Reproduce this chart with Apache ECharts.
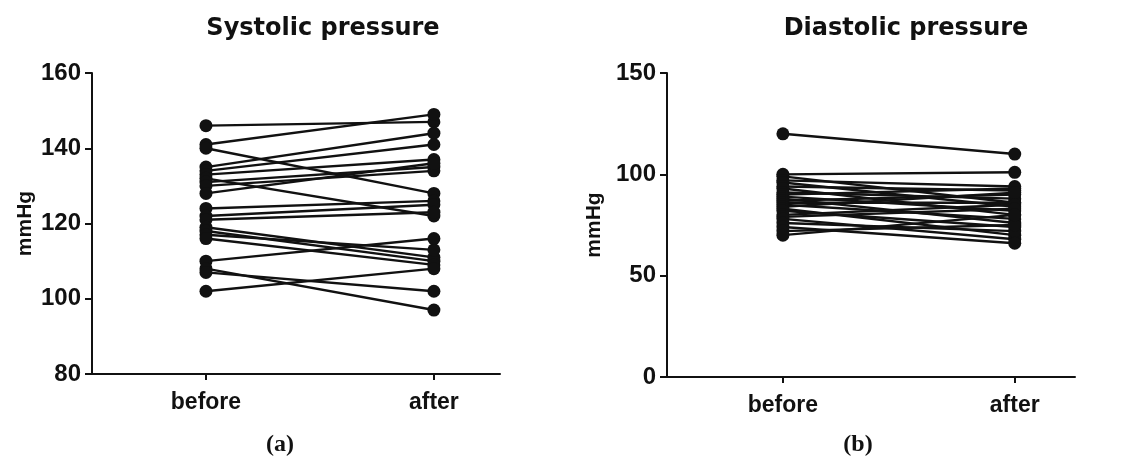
<!DOCTYPE html>
<html><head><meta charset="utf-8">
<script src="https://cdn.jsdelivr.net/npm/echarts@6/dist/echarts.min.js"></script>
<style>html,body{margin:0;padding:0;background:#fff}#c{width:1130px;height:459px}</style>
</head><body><div id="c"></div>
<script>
const categories = ['before', 'after'];
const sysTicks = [80, 100, 120, 140, 160];
const diaTicks = [0, 50, 100, 150];
const sysBefore = [146, 141, 140, 135, 134, 133, 132, 131, 130, 128, 124, 122, 121, 119, 118, 117, 116, 110, 108, 107, 102];
const sysAfter  = [147, 149, 128, 144, 141, 137, 122, 135, 134, 136, 126, 125, 123, 111, 110, 113, 109, 116, 97, 102, 108];
const diaBefore = [120, 100, 99, 97, 96, 94, 93, 91, 90, 89, 88, 87, 86, 85, 84, 83, 82, 80, 79, 78, 76, 74, 72, 70];
const diaAfter  = [110, 101, 86, 94, 84, 92, 80, 88, 93, 82, 76, 90, 86, 78, 91, 70, 74, 85, 83, 68, 72, 66, 75, 80];

const sans = 'Liberation Sans, Arial, sans-serif';
const wide = 'DejaVu Sans, Liberation Sans, sans-serif';
const serif = 'Liberation Serif, Times New Roman, serif';
function makeSeries(b, a, idx) {
  return b.map((v, i) => ({
    type: 'line', xAxisIndex: idx, yAxisIndex: idx,
    data: [[0, v], [1, a[i]]],
    symbol: 'circle', symbolSize: 13,
    lineStyle: {color: '#111', width: 2.4},
    itemStyle: {color: '#111'},
    silent: true, animation: false
  }));
}
function xAx(idx, min, max) {
  return {type: 'value', gridIndex: idx, min: min, max: max, interval: 0.5,
    axisLine: {onZero: false, lineStyle: {color: '#111', width: 2}},
    axisTick: {show: true, customValues: [0, 1], length: 6, lineStyle: {color: '#111', width: 2}},
    splitLine: {show: false},
    axisLabel: {margin: 17, color: '#111', fontSize: 23, fontWeight: 'bold', fontFamily: sans,
      formatter: v => (Math.abs(v) < 1e-6 ? categories[0] : (Math.abs(v - 1) < 1e-6 ? categories[1] : ''))}};
}
function yAx(idx, min, max, interval, nameGap) {
  return {type: 'value', gridIndex: idx, min: min, max: max, interval: interval,
    name: 'mmHg', nameLocation: 'middle', nameGap: nameGap, nameRotate: 90,
    nameTextStyle: {color: '#111', fontSize: 21, fontWeight: 'bold', fontFamily: sans},
    axisLine: {show: true, onZero: false, lineStyle: {color: '#111', width: 2}},
    axisTick: {show: true, length: 7, lineStyle: {color: '#111', width: 2}},
    splitLine: {show: false},
    axisLabel: {margin: 11, color: '#111', fontSize: 24, fontWeight: 'bold', fontFamily: sans}};
}
const cap = (t, x) => ({text: '{p|(}{b|' + t + '}{p|)}', left: x, top: 428, textAlign: 'center',
  textStyle: {rich: {p: {fontSize: 24, fontFamily: serif, color: '#111'},
    b: {fontSize: 24, fontWeight: 'bold', fontFamily: serif, color: '#111'}}}});
const chart = echarts.init(document.getElementById('c'), null, {renderer: 'canvas'});
chart.setOption({
  backgroundColor: '#fff',
  animation: false,
  title: [
    {text: 'Systolic pressure', left: 318, top: 12, textAlign: 'center',
     textStyle: {fontSize: 24, fontWeight: 'bold', color: '#111', fontFamily: wide}},
    {text: 'Diastolic pressure', left: 901, top: 12, textAlign: 'center',
     textStyle: {fontSize: 24, fontWeight: 'bold', color: '#111', fontFamily: wide}},
    cap('a', 275), cap('b', 853)
  ],
  grid: [
    {left: 92, top: 73, width: 408, height: 301},
    {left: 667, top: 73, width: 408, height: 304}
  ],
  xAxis: [xAx(0, -0.5, 1.29), xAx(1, -0.5, 1.26)],
  yAxis: [yAx(0, sysTicks[0], sysTicks[sysTicks.length - 1], 20, 56), yAx(1, diaTicks[0], diaTicks[diaTicks.length - 1], 50, 62)],
  series: makeSeries(sysBefore, sysAfter, 0).concat(makeSeries(diaBefore, diaAfter, 1))
});
</script></body></html>
